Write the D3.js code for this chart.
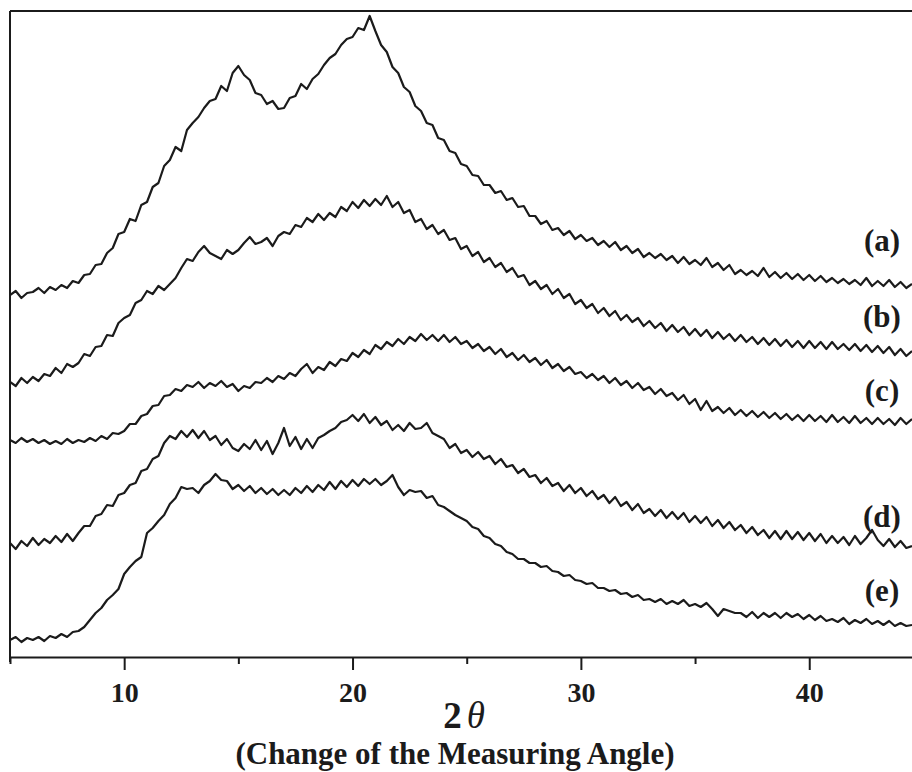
<!DOCTYPE html>
<html><head><meta charset="utf-8">
<script src="https://cdn.jsdelivr.net/npm/d3@7"></script>
<style>body{margin:0;background:#fff}</style>
</head><body>
<svg id="chart" width="912" height="772"></svg>
<script>
// ---- data (intensity, arbitrary units) ----
const seriesLabels = ["(a)", "(b)", "(c)", "(d)", "(e)"];
const xTicks = [10, 20, 30, 40];
const xMinorTicks = [5, 15, 25, 35];
const angles = d3.range(159).map(i => 5 + i * 0.25); // 2θ sampling grid, 5° .. 44.5°

const seriesA = [
362,366,359,364, 365,369,364,370, 367,372,369,376, 374,382,383,392, 393,404,409,423,
425,438,436,452, 455,470,474,491, 497,510,506,527, 534,540,549,556, 558,571,566,584,
591,582,577,564, 562,553,556,548, 549,559,561,573, 568,578,583,592, 599,603,612,618,
620,629,627,641, 626,612,605,590, 584,570,565,551, 546,534,532,519, 517,506,504,493,
491,482,481,472, 472,464,466,457, 459,450,451,441, 441,433,436,427, 429,422,426,418,
422,416,419,412, 416,410,415,407, 411,404,408,400, 404,399,403,397, 401,394,400,393,
397,392,399,390, 394,387,392,383, 387,382,386,381, 389,380,385,379, 384,378,383,377,
382,376,381,375, 379,374,378,373, 377,372,379,371, 376,371,377,370, 375,369,373];

const seriesB = [
275,271,279,274, 280,276,283,281, 289,284,293,290, 294,303,301,310, 311,322,321,334,
339,342,354,357, 366,363,371,367, 373,379,389,398, 396,405,411,404, 401,398,407,403,
407,414,420,413, 415,419,411,421, 425,423,432,430, 439,435,443,437, 444,440,450,446,
455,449,457,451, 458,452,461,450, 455,444,447,435, 438,428,432,423, 427,417,419,408,
411,401,405,395, 399,390,394,385, 389,380,382,372, 376,368,372,363, 368,359,363,353,
357,349,353,344, 349,341,346,337, 342,335,339,331, 336,329,334,326, 332,325,330,322,
328,321,327,319, 325,318,323,316, 322,315,320,313, 319,312,318,311, 317,310,316,309,
316,309,315,308, 315,308,313,307, 313,306,312,305, 311,304,310,302, 308,301,306];

const seriesC = [
217,214,219,215, 218,214,217,213, 216,213,218,214, 217,215,219,216, 221,218,224,223,
226,233,233,241, 243,251,252,261, 262,268,266,272, 270,275,269,274, 271,276,270,273,
266,271,269,275, 274,279,275,281, 278,284,281,288, 293,284,290,287, 295,291,298,296,
304,300,307,303, 312,308,315,311, 318,313,320,316, 323,317,322,316, 322,315,320,313,
316,309,313,306, 310,303,308,300, 304,297,302,295, 299,292,297,289, 293,286,290,283,
285,279,283,277, 281,274,279,272, 276,269,274,267, 270,263,268,261, 264,257,262,253,
258,247,256,246, 250,244,249,242, 247,241,246,240, 245,239,244,238, 243,237,242,236,
242,236,241,235, 242,235,240,234, 241,234,239,233, 239,233,238,232, 239,233,238];

const seriesD = [
114,108,116,111, 119,112,118,114, 121,115,123,116, 124,131,131,141, 143,152,151,162,
164,172,174,186, 188,198,201,214, 221,218,226,220, 227,219,226,217, 221,212,218,209,
206,213,208,217, 207,216,203,214, 229,211,220,208, 218,209,219,222, 226,229,235,237,
242,236,243,234, 240,232,236,227, 232,226,234,228, 229,234,224,221, 218,209,213,204,
207,200,205,198, 201,193,198,190, 192,184,188,180, 182,174,179,171, 174,166,172,164,
169,161,166,158, 162,154,160,151, 155,147,153,144, 148,141,147,139, 145,138,144,135,
141,134,140,131, 137,129,135,127, 132,124,130,122, 127,119,126,118, 126,118,125,117,
124,116,123,114, 121,114,120,112, 121,113,119,127, 117,111,118,110, 116,109,111];

const seriesE = [
17,20,15,19, 17,20,16,21, 19,23,20,25, 26,30,37,44, 49,57,62,68,
83,90,96,100, 124,129,136,142, 153,159,170,168, 169,164,172,176, 183,177,176,168,
172,166,171,164, 169,163,168,162, 167,162,169,164, 171,165,172,167, 175,168,176,170,
177,171,178,173, 178,172,176,182, 170,162,167,165, 166,159,161,152, 150,146,142,139,
136,130,128,121, 119,113,111,105, 103,98,98,94, 94,90,91,86, 85,81,82,77,
76,73,74,69, 69,66,67,63, 64,60,62,57, 58,55,58,53, 56,53,57,51,
53,50,54,48, 41,48,46,44, 44,40,45,39, 44,40,44,39, 44,40,43,38,
42,37,41,36, 38,35,39,33, 37,34,38,33, 36,32,36,31, 34,31,32];

const allSeries = [seriesA, seriesB, seriesC, seriesD, seriesE];

// ---- layout ----
const svg = d3.select("#chart");
const FONT = "'Liberation Serif', 'Times New Roman', serif";
const INK = "#1b1b1b";
const x = d3.scaleLinear().domain([5, 44.5]).range([10, 912]);
const y = d3.scaleLinear().domain([0, 646]).range([657, 11]);
const labelBaselines = [251, 327, 401, 527, 601];

svg.append("defs").append("clipPath").attr("id", "plotclip")
  .append("rect").attr("x", x(5)).attr("y", 0).attr("width", 912 - x(5)).attr("height", y(0));

// frame: top and left lines
svg.append("line").attr("x1", x(5)).attr("x2", 912).attr("y1", y(646)).attr("y2", y(646))
  .attr("stroke", INK).attr("stroke-width", 2);
svg.append("line").attr("x1", x(5)).attr("x2", x(5)).attr("y1", y(646)).attr("y2", y(0) + 5)
  .attr("stroke", INK).attr("stroke-width", 2);

// curves
const line = d3.line().x((d, i) => x(angles[i])).y(d => y(d));
svg.append("g").attr("clip-path", "url(#plotclip)")
  .selectAll("path").data(allSeries).join("path")
  .attr("d", d => line(d))
  .attr("fill", "none").attr("stroke", INK).attr("stroke-width", 2.2)
  .attr("stroke-linejoin", "round");

// x axis
const gx = svg.append("g").attr("transform", `translate(0,${y(0)})`)
  .call(d3.axisBottom(x).tickValues(xTicks).tickSize(13).tickSizeOuter(0).tickFormat(d3.format("d")));
gx.select(".domain").attr("stroke", INK).attr("stroke-width", 2);
gx.selectAll(".tick line").attr("stroke", INK).attr("stroke-width", 2);
gx.selectAll(".tick text").attr("y", 45).attr("dy", 0)
  .attr("font-family", FONT).attr("font-weight", "bold").attr("font-size", 28).attr("fill", INK);

const gm = svg.append("g").attr("transform", `translate(0,${y(0)})`)
  .call(d3.axisBottom(x).tickValues(xMinorTicks).tickSize(7).tickFormat(""));
gm.select(".domain").remove();
gm.selectAll(".tick line").attr("stroke", INK).attr("stroke-width", 2);

// series labels
svg.append("g").selectAll("text").data(seriesLabels).join("text")
  .attr("x", 882).attr("y", (d, i) => labelBaselines[i])
  .attr("text-anchor", "middle")
  .attr("font-family", FONT).attr("font-weight", "bold").attr("font-size", 31).attr("fill", INK)
  .text(d => d);

// axis titles
const t1 = svg.append("text").attr("x", 464).attr("y", 728).attr("text-anchor", "middle")
  .attr("font-family", FONT).attr("font-size", 37).attr("fill", INK);
t1.append("tspan").attr("font-weight", "bold").text("2");
t1.append("tspan").attr("font-style", "italic").attr("dx", 5).text("θ");

svg.append("text").attr("x", 455).attr("y", 764).attr("text-anchor", "middle")
  .attr("font-family", FONT).attr("font-weight", "bold").attr("font-size", 31).attr("fill", INK)
  .text("(Change of the Measuring Angle)");
</script>
</body></html>
